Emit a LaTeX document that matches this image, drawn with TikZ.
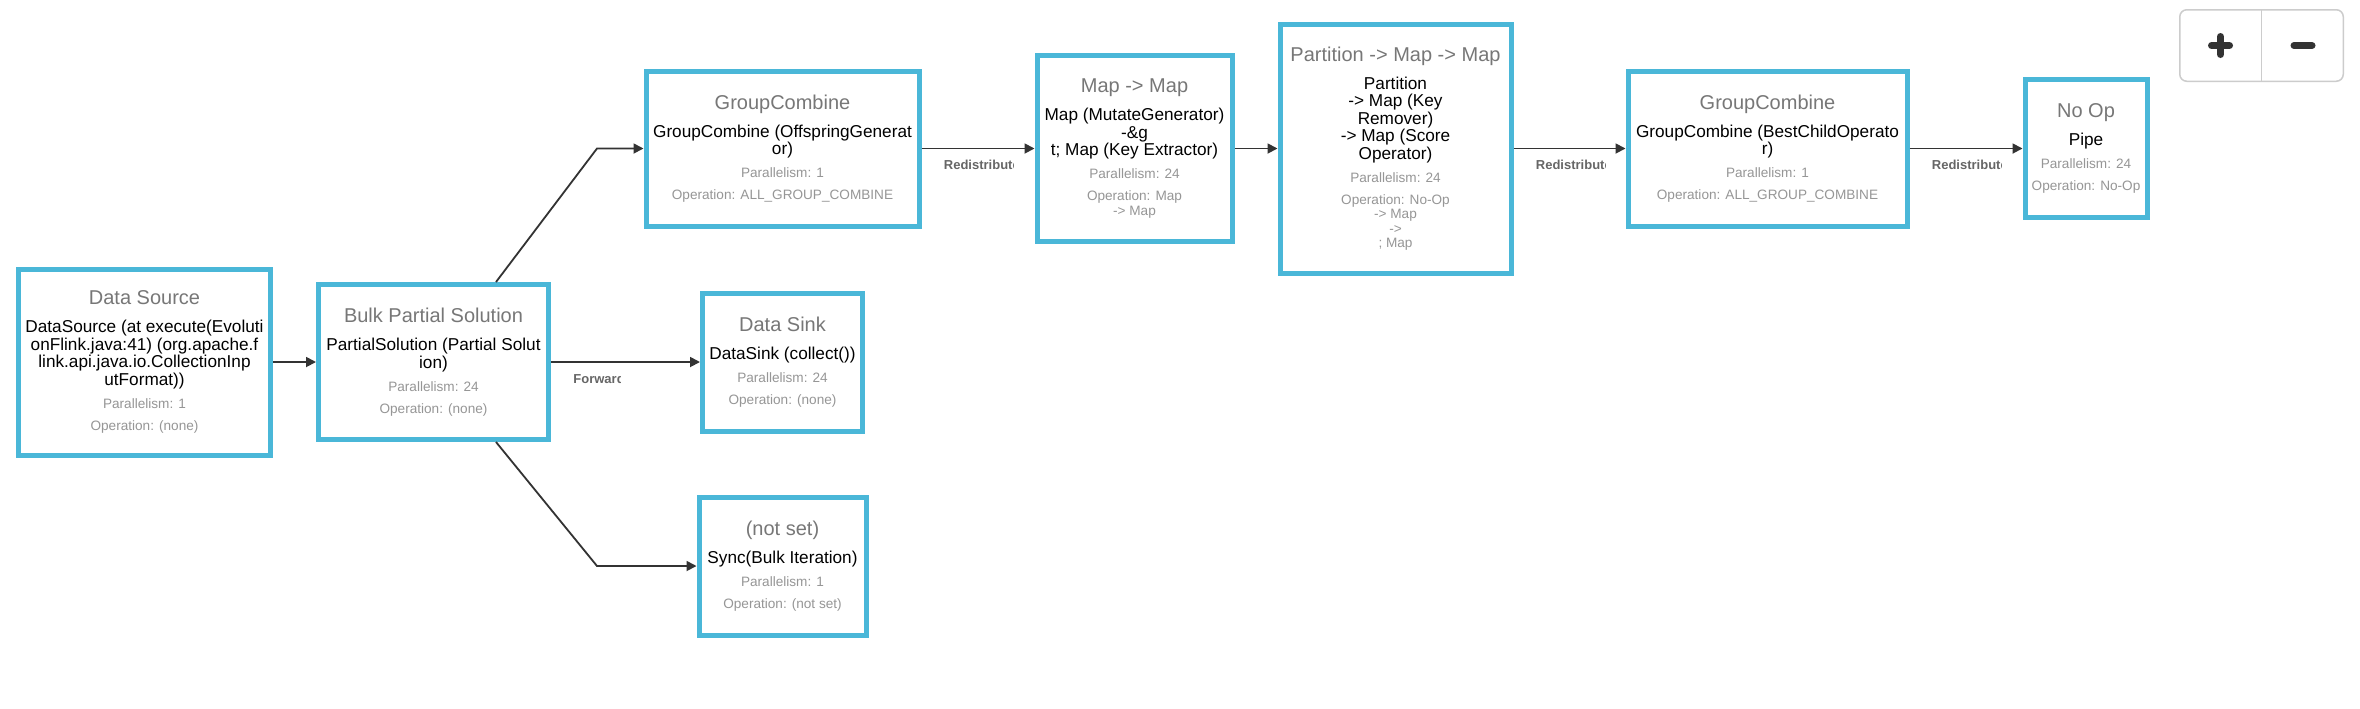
\documentclass[tikz,border=0pt]{standalone}
\usepackage{fontspec}
\setmainfont{Liberation Sans}
\usetikzlibrary{arrows.meta, positioning}

\definecolor{flinkblue}{RGB}{74,183,216}
\definecolor{titlegray}{RGB}{119,119,119}
\definecolor{infogray}{RGB}{150,150,150}
\definecolor{edgegray}{RGB}{51,51,51}
\definecolor{labelgray}{RGB}{102,102,102}
\definecolor{btngray}{RGB}{204,204,204}

% title / operator / parallelism / operation
\newcommand{\opinfo}[4]{%
  {\fontsize{10}{12}\selectfont\color{titlegray}#1\par}\vspace{5.2pt}%
  {\fontsize{8.6}{8.8}\selectfont #2\par}\vspace{4.3pt}%
  {\fontsize{6.8}{7.2}\selectfont\color{infogray}Parallelism: #3\par}\vspace{3.8pt}%
  {\fontsize{6.8}{7.2}\selectfont\color{infogray}Operation: #4\par}}

% ship strategy label under an edge, cut off like in the web view
\newcommand{\shiplabel}[4]{%
  \begin{scope}
    \clip ([xshift=11pt, yshift=-2pt]#2.east) rectangle ([xshift=11pt+#3, yshift=-15pt]#2.east);
    \node[edgelabel] (#1) at ([xshift=11pt, yshift=-8.25pt]#2.east) {#4};
  \end{scope}}

\begin{document}
\begin{tikzpicture}[x=0.5pt, y=-0.5pt,
            % Styles
            opbox/.style 2 args={rectangle, draw=flinkblue, line width=2.5pt, fill=white, minimum width=#1, text width=#1, minimum height=#2, inner xsep=0pt, inner ysep=2pt, align=flush center},
            line/.style={draw=edgegray, line width=0.9pt, -{Triangle[length=5pt, width=5pt]}},
            edgelabel/.style={anchor=west, inner sep=0pt, text=labelgray, font=\bfseries\fontsize{6.5}{7}\selectfont},
            zoomctl/.style={rectangle, rounded corners=3.5pt, draw=btngray, line width=0.75pt, minimum width=81.75pt, minimum height=35.75pt},
            zoomicon/.style={draw=edgegray, line width=3.5pt, line cap=round}
        ]

        \path[fill=white] (0,0) rectangle (2360,708);

        % Nodes
        \node[opbox={126pt}{93pt}] (source) at (144.5,362) {\opinfo{Data Source}{DataSource (at execute(Evoluti\\onFlink.java:41) (org.apache.f\\link.api.java.io.CollectionInp\\utFormat))}{1}{(none)}};

        % Iteration head
        \node[opbox={115pt}{77.5pt}, right=21.5pt of source] (partial) {\opinfo{Bulk Partial Solution}{PartialSolution (Partial Solut\\ion)}{24}{(none)}};

        % Sink
        \node[opbox={80pt}{69pt}, right=74.5pt of partial] (sink) {\opinfo{Data Sink}{DataSink (collect())}{24}{(none)}};

        % Step function
        \node[opbox={136.5pt}{77.5pt}, above=31pt of sink] (offspring) {\opinfo{GroupCombine}{GroupCombine (OffspringGenerat\\or)}{1}{ALL\_GROUP\_COMBINE}};

        \node[opbox={97.5pt}{93pt}, right=56.5pt of offspring] (mutate) {\opinfo{Map -> Map}{Map (MutateGenerator)\\-\&g\\t; Map (Key Extractor)}{24}{Map\\-> Map}};

        \node[opbox={115.5pt}{124.5pt}, right=21.5pt of mutate] (partition) {\opinfo{Partition -> Map -> Map}{Partition\\-> Map (Key\\Remover)\\-> Map (Score\\Operator)}{24}{No-Op\\-> Map\\->\\; Map}};

        \node[opbox={139.5pt}{77.5pt}, right=56pt of partition] (bestchild) {\opinfo{GroupCombine}{GroupCombine (BestChildOperato\\r)}{1}{ALL\_GROUP\_COMBINE}};

        \node[opbox={61pt}{69pt}, right=56.5pt of bestchild] (noop) {\opinfo{No Op}{Pipe}{24}{No-Op}};

        % Iteration tail
        \node[opbox={83.5pt}{69pt}, below=30.5pt of sink] (sync) {\opinfo{(not set)}{Sync(Bulk Iteration)}{1}{(not set)}};

        % Bends
        \coordinate (upbend) at ([xshift=23pt]partial.east |- offspring.west);
        \coordinate (downbend) at ([xshift=23pt]partial.east |- sync.west);

        % Edges
        \path[line] (source) -- (partial);
        \path[line] (partial) -- (sink);
        \path[line] ([xshift=-27.5pt]partial.north east) -- (upbend) -- (offspring);
        \path[line] ([xshift=-27.5pt]partial.south east) -- (downbend) -- (sync);
        \path[line] (offspring) -- (mutate);
        \path[line] (mutate) -- (partition);
        \path[line] (partition) -- (bestchild);
        \path[line] (bestchild) -- (noop);

        % Edge labels
        \shiplabel{fwd}{partial}{23.5pt}{Forward}
        \shiplabel{redist1}{offspring}{34.8pt}{Redistribute}
        \shiplabel{redist2}{partition}{34.8pt}{Redistribute}
        \shiplabel{redist3}{bestchild}{34.8pt}{Redistribute}

        % Zoom buttons
        \node[zoomctl] (zoom) at (2261.5,45.5) {};
        \draw[btngray, line width=0.75pt] (zoom.north) -- (zoom.south);
        \draw[zoomicon] ([xshift=-20.5pt]zoom.center) ++(-4.5pt,0) -- ++(9pt,0)
                        ([xshift=-20.5pt]zoom.center) ++(0,-4.5pt) -- ++(0,9pt);
        \draw[zoomicon] ([xshift=20.75pt]zoom.center) ++(-4.5pt,0) -- ++(9pt,0);

    \end{tikzpicture}
\end{document}
